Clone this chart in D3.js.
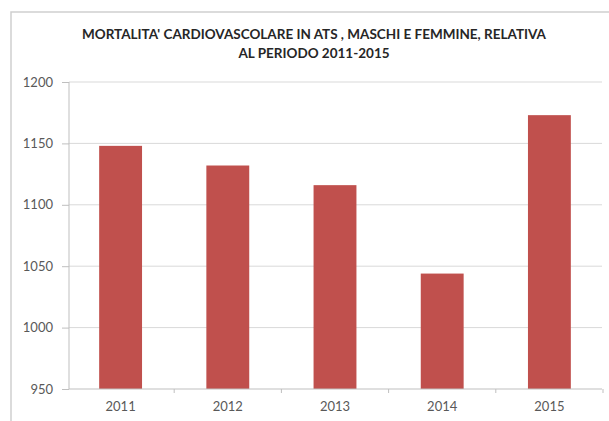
<!DOCTYPE html>
<html>
<head>
<meta charset="utf-8">
<script src="https://cdn.jsdelivr.net/npm/d3@7"></script>
<style>
  body { margin: 0; background: #fff; overflow: hidden; }
  svg { display: block; }
  text { font-family: Lato, "Open Sans", sans-serif; }
</style>
</head>
<body>
<div id="chart"></div>
<script>
// data
var years = ["2011", "2012", "2013", "2014", "2015"];
var deaths = [1148, 1132, 1116, 1044, 1173];
var yTicks = [950, 1000, 1050, 1100, 1150, 1200];
var titleLines = ["MORTALITA' CARDIOVASCOLARE IN ATS , MASCHI E FEMMINE, RELATIVA", "AL PERIODO 2011-2015"];

var W = 609, H = 421;

var svg = d3.select("#chart")
  .append("svg")
  .attr("width", W)
  .attr("height", H);

// outer frame (only left and top edges are visible in the crop)
svg.append("path")
  .attr("d", "M11," + H + "V12H" + W)
  .attr("fill", "none")
  .attr("stroke", "#cfcfcf")
  .attr("stroke-width", 1.5);

// title
svg.append("g").selectAll("text")
  .data(titleLines)
  .enter().append("text")
  .attr("x", 314)
  .attr("y", function(d, i) { return 39 + i * 19; })
  .attr("text-anchor", "middle")
  .attr("font-size", 13.5)
  .attr("font-weight", "bold")
  .attr("fill", "#262626")
  .text(function(d) { return d; });

var x = d3.scaleBand()
  .domain(years)
  .range([67, 603])
  .paddingInner(0.6)
  .paddingOuter(0.3);

var y = d3.scaleLinear()
  .domain([950, 1200])
  .range([389, 82]);

// gridlines
svg.append("g").selectAll("line")
  .data(yTicks.slice(1))
  .enter().append("line")
  .attr("x1", 69).attr("x2", 602)
  .attr("y1", function(d) { return y(d); })
  .attr("y2", function(d) { return y(d); })
  .attr("stroke", "#d9d9d9")
  .attr("stroke-width", 1);

// bars
svg.append("g").selectAll("rect")
  .data(years)
  .enter().append("rect")
  .attr("x", function(d) { return x(d); })
  .attr("width", x.bandwidth())
  .attr("y", function(d, i) { return y(deaths[i]); })
  .attr("height", function(d, i) { return y(950) - y(deaths[i]); })
  .attr("fill", "#c0504d");

// y axis
var yAxis = svg.append("g")
  .attr("transform", "translate(69,0)")
  .call(d3.axisLeft(y).tickValues(yTicks).tickSize(7).tickPadding(9).tickFormat(d3.format("d")));
yAxis.selectAll("line, path").attr("stroke", "#bfbfbf");
yAxis.select(".domain").attr("d", "M0," + y(1200) + "V" + y(950));
yAxis.selectAll("text").attr("fill", "#595959").attr("font-size", 13).style("font-family", "Lato, sans-serif");

// x axis
var xAxis = svg.append("g")
  .attr("transform", "translate(0," + y(950) + ")")
  .call(d3.axisBottom(x).tickSize(0).tickPadding(13));
xAxis.select(".domain").attr("stroke", "#bfbfbf").attr("d", "M69,0H602");
xAxis.selectAll("text").attr("fill", "#595959").attr("font-size", 13).style("font-family", "Lato, sans-serif");

// little ticks between categories
var step = x.step();
xAxis.append("g").selectAll("line")
  .data(years)
  .enter().append("line")
  .attr("x1", function(d) { return x(d) + x.bandwidth() + step * 0.3; })
  .attr("x2", function(d) { return x(d) + x.bandwidth() + step * 0.3; })
  .attr("y1", 0).attr("y2", 4)
  .attr("stroke", "#bfbfbf");
</script>
</body>
</html>
